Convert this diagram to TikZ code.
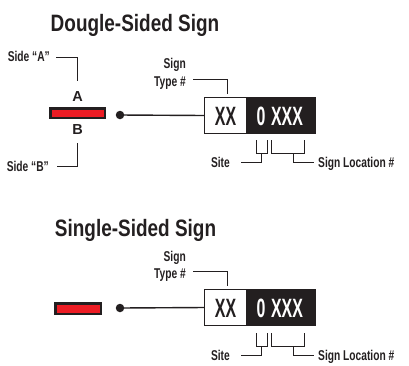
\documentclass[tikz,border=0pt]{standalone}
\usepackage{fontspec}
\setmainfont{Liberation Sans}[FakeStretch=0.72]
\newfontfamily\titlefont{Liberation Sans}[FakeStretch=0.8]
\newfontfamily\boxfont{Liberation Sans}[FakeStretch=0.6]
\newfontfamily\letterfont{Liberation Sans}
\usetikzlibrary{calc, positioning}

\definecolor{signred}{HTML}{ED1C24}
\definecolor{signblack}{HTML}{231F20}

\tikzset{
  title/.style={font=\titlefont\bfseries\fontsize{23.7}{26}\selectfont, text=signblack},
  lbl/.style={font=\bfseries\fontsize{14.2}{17.5}\selectfont, text=signblack, inner sep=0pt, text height=10.2pt, text depth=0pt},
  letter/.style={font=\letterfont\bfseries\fontsize{14.5}{16}\selectfont, text=signblack, inner sep=0pt, text height=10.4pt, text depth=0pt},
  redbar/.style={draw=signblack, fill=signred, line width=2.5pt, inner sep=0pt},
  dot/.style={circle, fill=signblack, minimum size=8.5pt, inner sep=0pt},
  typebox/.style={draw=signblack, fill=white, line width=1pt, minimum width=42pt, minimum height=36pt, inner sep=0pt, outer sep=0pt},
  locbox/.style={fill=signblack, minimum width=69pt, minimum height=37pt, inner sep=0pt, outer sep=0pt},
  boxtxt/.style={font=\boxfont\bfseries\fontsize{26.5}{28}\selectfont, inner sep=0pt, text height=19pt, text depth=0pt},
  leader/.style={draw=signblack, line width=0.9pt},
  conn/.style={draw=signblack, line width=1.4pt}
}

\begin{document}
\begin{tikzpicture}[x=1pt,y=-1pt]
      \useasboundingbox (0,0) rectangle (409,365);

      % double-sided sign
      \node[title] (title1) at (135,25) {Dougle-Sided Sign};

      \node[redbar, minimum width=54.5pt, minimum height=9.5pt] (bar1) at (77.5,113) {};
      \node[letter, above=5pt of bar1] (A1) {A};
      \node[letter, below=5pt of bar1] (B1) {B};
      \node[lbl, anchor=east] (sideA) at (50,56.5) {Side “A”};
      \node[lbl, anchor=east] (sideB) at (49,166) {Side “B”};
      \draw[leader] ([xshift=6pt,yshift=-0.5pt]sideA.east) -| ([yshift=10pt]A1.north);
      \draw[leader] ([xshift=8pt]sideB.east) -| ([yshift=-8pt]B1.south);

      \node[dot] (dot1) at (120,115) {};
      \node[typebox] (type1) at (225.5,115.5) {};
      \node[locbox, right=0pt of type1] (loc1) {};
      \node[boxtxt, text=signblack] (xx1) at (type1.center) {XX};
      \node[boxtxt, text=white] (zero1) at (261,115.5) {0};
      \node[boxtxt, text=white] (num1) at (287,115.5) {XXX};
      \draw[conn] (dot1.center) -- (type1.west);

      \node[lbl, anchor=east] (sign1) at (186,63.5) {Sign};
      \node[lbl, anchor=east] (stype1) at (186,81.5) {Type \#};
      \draw[leader] ([xshift=7pt,yshift=2.5pt]stype1.east) -| ([xshift=1.5pt,yshift=4pt]type1.north);

      \coordinate (site1) at (261.5,153);
      \coordinate (locn1) at (293,153);
      \draw[leader] (256,140) |- (267,153) -- (267,140);
      \draw[leader] (271,140) |- (304,153) -- (304,140);
      \node[lbl, anchor=east] (sitelbl1) at (230,162) {Site};
      \node[lbl, anchor=west] (loclbl1) at (318,162) {Sign Location \#};
      \draw[leader] (site1) |- ([xshift=11pt]sitelbl1.east);
      \draw[leader] (locn1) |- ([xshift=-4pt]loclbl1.west);

      % single-sided sign
      \coordinate (P) at (0,193);
      \node[title] (title2) at (135.5,230) {Single-Sided Sign};

      \node[redbar, minimum width=45.5pt, minimum height=10.5pt] (bar2) at (78,308.5) {};

      \node[dot] (dot2) at ($(P)+(120,115)$) {};
      \node[typebox] (type2) at ($(P)+(225.5,114.5)$) {};
      \node[locbox, right=0pt of type2] (loc2) {};
      \node[boxtxt, text=signblack] (xx2) at (type2.center) {XX};
      \node[boxtxt, text=white] (zero2) at ($(P)+(261,114.5)$) {0};
      \node[boxtxt, text=white] (num2) at ($(P)+(287,114.5)$) {XXX};
      \draw[conn] (dot2.center) -- (type2.west);

      \node[lbl, anchor=east] (sign2) at ($(P)+(186,63.5)$) {Sign};
      \node[lbl, anchor=east] (stype2) at ($(P)+(186,80.5)$) {Type \#};
      \draw[leader] ([xshift=7pt,yshift=2.5pt]stype2.east) -| ([xshift=1.5pt,yshift=4pt]type2.north);

      \coordinate (site2) at ($(P)+(261.5,153)$);
      \coordinate (locn2) at ($(P)+(293,153)$);
      \draw[leader] ($(P)+(256,140)$) |- ($(P)+(267,153)$) -- ($(P)+(267,140)$);
      \draw[leader] ($(P)+(271,140)$) |- ($(P)+(304,153)$) -- ($(P)+(304,140)$);
      \node[lbl, anchor=east] (sitelbl2) at ($(P)+(230,162)$) {Site};
      \node[lbl, anchor=west] (loclbl2) at ($(P)+(318,162)$) {Sign Location \#};
      \draw[leader] (site2) |- ([xshift=11pt]sitelbl2.east);
      \draw[leader] (locn2) |- ([xshift=-4pt]loclbl2.west);
\end{tikzpicture}
\end{document}
